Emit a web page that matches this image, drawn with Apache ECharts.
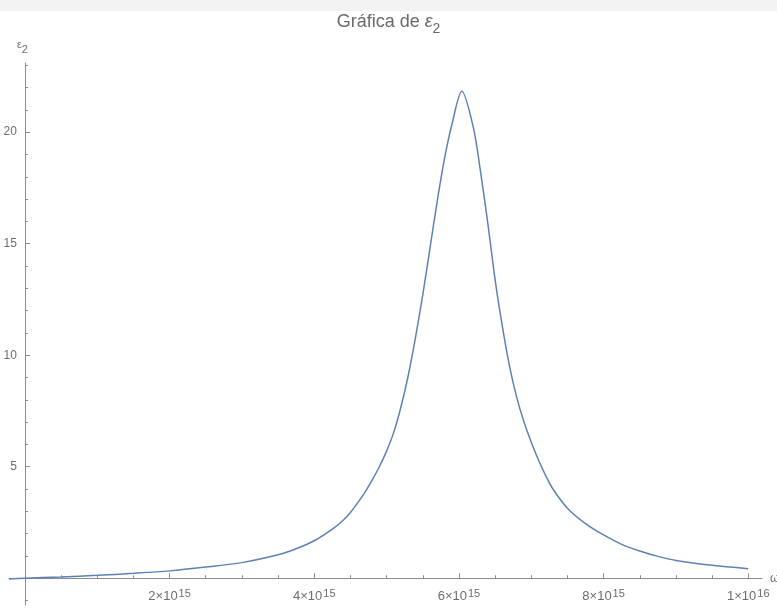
<!DOCTYPE html>
<html>
<head>
<meta charset="utf-8">
<script src="https://cdn.jsdelivr.net/npm/echarts@6/dist/echarts.min.js"></script>
<style>
  html, body { margin: 0; padding: 0; background: #fff; }
  #chart { width: 777px; height: 608px; }
</style>
</head>
<body>
<div id="chart"></div>
<script>
// ω in units of 10^15
const omega = [-0.22, 0, 0.5, 1.0, 1.5, 2.0, 2.5, 3.0, 3.5, 3.75, 4.0, 4.25, 4.4, 4.5, 4.6, 4.7, 4.8, 4.9, 5.0, 5.1, 5.2, 5.3, 5.4,
  5.5, 5.6, 5.7, 5.8, 5.9, 6.04, 6.2, 6.3, 6.4, 6.5, 6.6, 6.7, 6.8, 6.9, 7.0, 7.1, 7.2, 7.3, 7.5, 7.75, 8.0, 8.25, 8.5, 8.75, 9.0, 9.5, 10.0];
const eps2 = [-0.03, 0, 0.06, 0.13, 0.22, 0.33, 0.5, 0.70, 1.05, 1.32, 1.68, 2.2, 2.6, 2.95, 3.38, 3.85, 4.4, 5.0, 5.7, 6.55, 7.7, 9.1, 10.8,
  12.7, 14.8, 16.9, 18.8, 20.3, 21.83, 20.2, 18.2, 15.9, 13.39, 11.3, 9.5, 8.1, 7.0, 6.1, 5.3, 4.6, 4.0, 3.14, 2.45, 1.94, 1.52, 1.22, 0.98, 0.80, 0.58, 0.43];

const xMajor = [2, 4, 6, 8, 10];
const xMinor = [0.5, 1, 1.5, 2.5, 3, 3.5, 4.5, 5, 5.5, 6.5, 7, 7.5, 8.5, 9, 9.5];
const xTickMant = ['2\u00d710', '4\u00d710', '6\u00d710', '8\u00d710', '1\u00d710'];
const xTickExp = ['15', '15', '15', '15', '16'];
const yMajor = [5, 10, 15, 20];
const yMinor = [-1, 1, 2, 3, 4, 6, 7, 8, 9, 11, 12, 13, 14, 16, 17, 18, 19, 21, 22, 23];

const AXIS = '#8c8c8c';
const TXT = '#6d6d6d';
const FONT = 'Liberation Sans, Arial, sans-serif';

const W = 777, H = 608;
const G = { left: 9, right: 15, top: 63, bottom: 3 };
const X_MIN = -0.22, X_MAX = 10.19, Y_MIN = -1.2, Y_MAX = 23.1;
// shift the axes from the grid edge to the zero lines (labels then follow)
const yOff = -(0 - X_MIN) / (X_MAX - X_MIN) * (W - G.left - G.right);
const xOff = -(0 - Y_MIN) / (Y_MAX - Y_MIN) * (H - G.top - G.bottom);

const chart = echarts.init(document.getElementById('chart'));

const xBase = {
  type: 'value', min: X_MIN, max: X_MAX, position: 'bottom', offset: xOff,
  splitLine: { show: false }
};
const yBase = {
  type: 'value', min: Y_MIN, max: Y_MAX, position: 'left', offset: yOff,
  splitLine: { show: false }
};

chart.setOption({
  animation: false,
  title: {
    text: '{t|Gr\u00e1fica de }{e|\u03b5}{s|2}',
    left: 'center', top: 8,
    textStyle: {
      fontWeight: 'normal',
      rich: {
        t: { fontFamily: FONT, fontSize: 18, fontWeight: 'normal', color: '#6a6a6a', lineHeight: 22, verticalAlign: 'top' },
        e: { fontFamily: FONT, fontSize: 18, fontWeight: 'normal', fontStyle: 'italic', color: '#6a6a6a', lineHeight: 22, verticalAlign: 'top' },
        s: { fontFamily: FONT, fontSize: 14, fontWeight: 'normal', color: '#6a6a6a', lineHeight: 15, padding: [9, 0, 0, 0], verticalAlign: 'top' }
      }
    }
  },
  graphic: [{
    type: 'rect', left: 0, top: 0, z: -1,
    shape: { width: W, height: 11 },
    style: { fill: '#f3f3f3' }
  }],
  grid: Object.assign({ outerBoundsMode: 'none', containLabel: false }, G),
  xAxis: [
    Object.assign({}, xBase, {
      name: '\u03c9', nameLocation: 'end', nameGap: 8,
      nameTextStyle: { color: TXT, fontFamily: FONT, fontSize: 12, align: 'left', verticalAlign: 'middle' },
      axisLine: { onZero: false, lineStyle: { color: AXIS, width: 1 } },
      axisTick: { show: true, inside: true, length: 5, customValues: xMajor, lineStyle: { color: AXIS } },
      axisLabel: {
        customValues: xMajor, margin: 10, color: TXT,
        formatter: v => {
          const i = xMajor.indexOf(v);
          return i < 0 ? '' : '{a|' + xTickMant[i] + '}{s|' + xTickExp[i] + '}';
        },
        rich: {
          a: { fontFamily: FONT, fontSize: 13, color: TXT, lineHeight: 15, padding: [4, 0, 0, 0], verticalAlign: 'bottom' },
          s: { fontFamily: FONT, fontSize: 11, color: TXT, lineHeight: 12, padding: [0, 0, 7, 1], verticalAlign: 'top' }
        }
      }
    }),
    Object.assign({}, xBase, {
      axisLine: { show: false, onZero: false },
      axisTick: { show: true, inside: true, length: 3, customValues: xMinor, lineStyle: { color: AXIS } },
      axisLabel: { show: false }
    })
  ],
  yAxis: [
    Object.assign({}, yBase, {
      name: '{e|\u03b5}{s|2}', nameLocation: 'end', nameGap: 12,
      nameTextStyle: {
        align: 'right', padding: [0, -3, 0, 0],
        rich: {
          e: { fontFamily: FONT, fontSize: 11, color: TXT, lineHeight: 12, verticalAlign: 'top' },
          s: { fontFamily: FONT, fontSize: 11, color: TXT, lineHeight: 12, padding: [5, 0, 0, 0], verticalAlign: 'top' }
        }
      },
      axisLine: { onZero: false, lineStyle: { color: AXIS, width: 1 } },
      axisTick: { show: true, inside: true, length: 5, customValues: yMajor, lineStyle: { color: AXIS } },
      axisLabel: { customValues: yMajor, margin: 8, color: TXT, fontFamily: FONT, fontSize: 12 }
    }),
    Object.assign({}, yBase, {
      axisLine: { show: false, onZero: false },
      axisTick: { show: true, inside: true, length: 3, customValues: yMinor, lineStyle: { color: AXIS } },
      axisLabel: { show: false }
    })
  ],
  series: [{
    type: 'line',
    xAxisIndex: 0, yAxisIndex: 0,
    data: omega.map((w, i) => [w, eps2[i]]),
    smooth: 0.3,
    showSymbol: false,
    lineStyle: { color: '#5e81b5', width: 1.5 }
  }]
});
</script>
</body>
</html>
